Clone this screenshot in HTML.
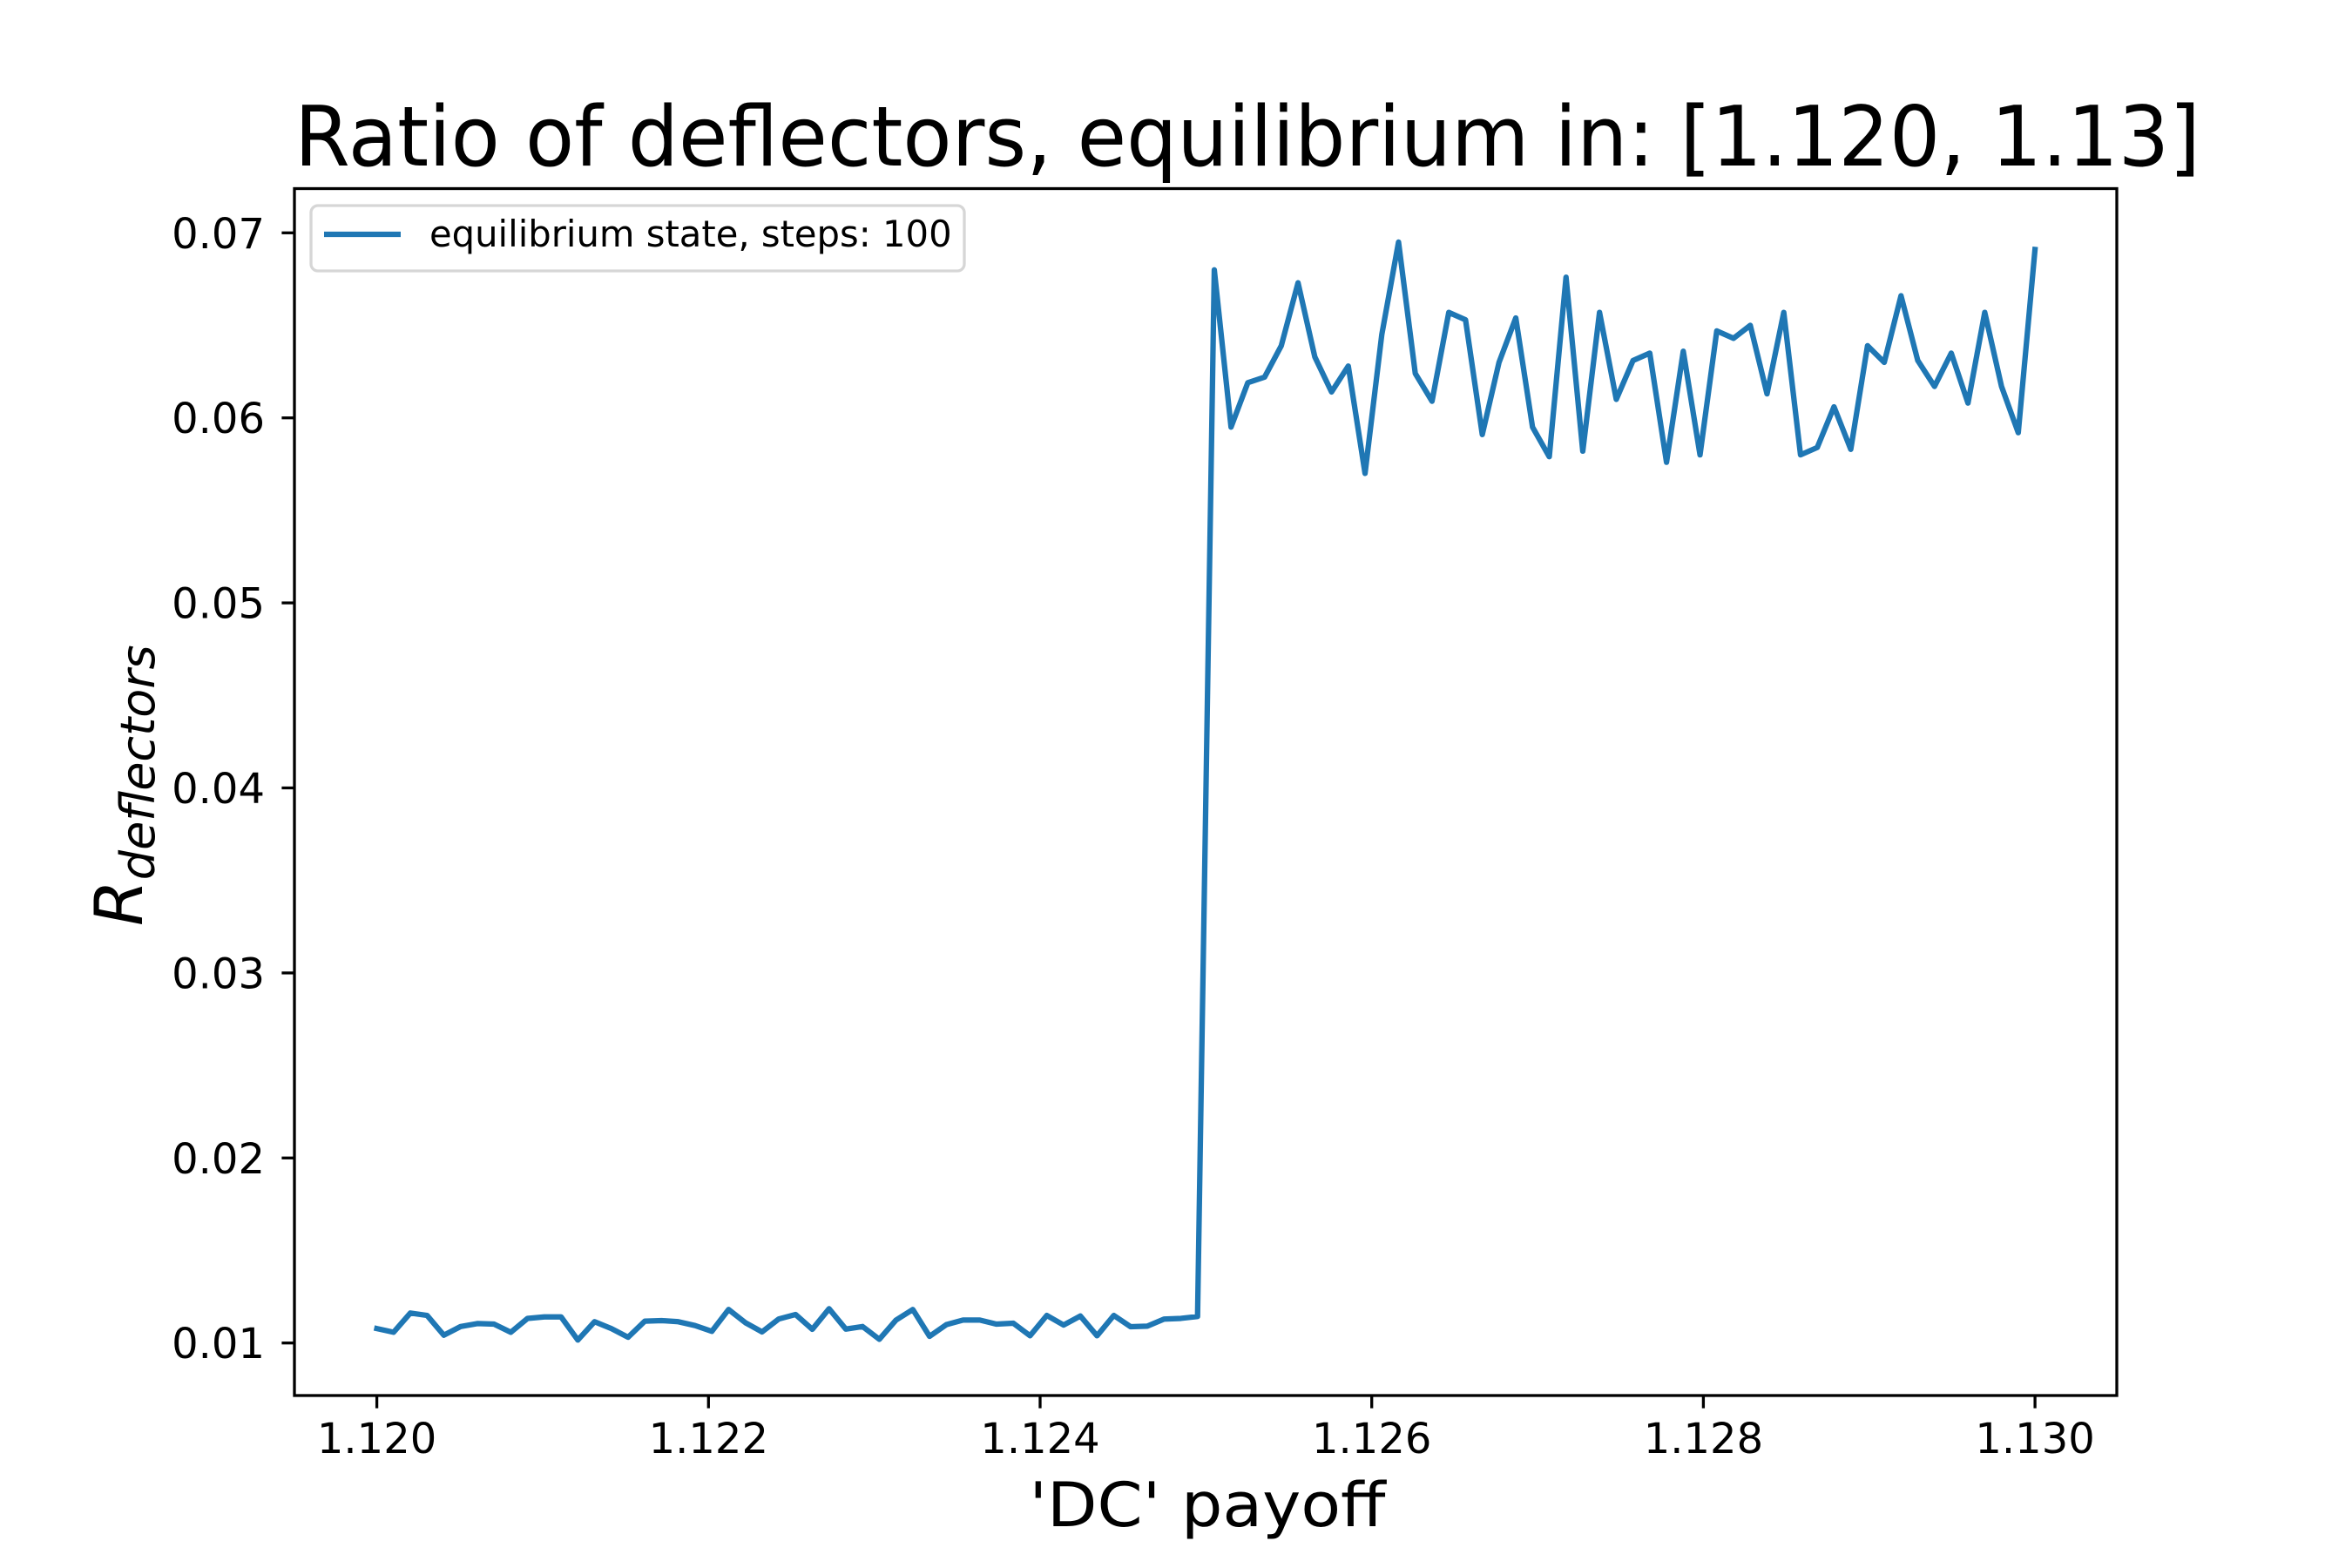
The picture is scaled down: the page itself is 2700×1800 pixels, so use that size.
<!DOCTYPE html>
<html><head><meta charset="utf-8"><style>
html,body{margin:0;padding:0;background:#fff;}
svg{display:block;font-family:"DejaVu Sans","Liberation Sans",sans-serif;}
</style></head><body>
<svg id="chart" width="2700" height="1800" viewBox="0 0 2700 1800" xmlns="http://www.w3.org/2000/svg">
<rect x="0" y="0" width="2700" height="1800" fill="#fff"/>
<text x="338" y="190" font-size="95" textLength="2188" lengthAdjust="spacingAndGlyphs">Ratio of deflectors, equilibrium in: [1.120, 1.13]</text>
<g id="xticks"></g>
<g id="yticks"></g>
<path id="series" fill="none" stroke="#1f77b4" stroke-width="6.25" stroke-linejoin="round" stroke-linecap="square"/>
<rect x="338" y="216.5" width="2092" height="1385.5" fill="none" stroke="#000" stroke-width="3.3"/>
<text x="1386" y="1752" font-size="70" text-anchor="middle" textLength="409" lengthAdjust="spacingAndGlyphs">'DC' payoff</text>
<g transform="translate(163,1063) rotate(-90)">
<text font-size="76" font-style="italic">R<tspan font-size="54" dy="14">deflectors</tspan></text>
</g>
<g>
<rect x="357" y="236" width="750" height="75" rx="8" fill="#fff" fill-opacity="0.8" stroke="#d6d6d6" stroke-width="3.3"/>
<line x1="372" y1="269" x2="460" y2="269" stroke="#1f77b4" stroke-width="6.25"/>
<text x="493" y="283" font-size="41.7">equilibrium state, steps: 100</text>
</g>
</svg>
<script>
const yValues = [
0.01078,0.01058,0.01162,0.01149,0.01042,0.01089,0.01105,0.01102,0.01058,0.01133,
0.01141,0.01141,0.01016,0.01115,0.01078,0.01031,0.01118,0.01121,0.01115,0.01094,
0.01063,0.01181,0.01110,0.01060,0.01130,0.01154,0.01074,0.01185,0.01075,0.01089,
0.01020,0.01124,0.01181,0.01036,0.01099,0.01124,0.01124,0.01102,0.01107,0.01039,
0.01149,0.01097,0.01146,0.01039,0.01149,0.01088,0.01091,0.01129,0.01133,0.01143,
0.0680,0.0595,0.0619,0.0622,0.0639,0.0673,0.0633,0.0614,0.0628,0.0570,
0.0645,0.0695,0.0624,0.0609,0.0657,0.0653,0.0591,0.0630,0.0654,0.0595,
0.0579,0.0676,0.0582,0.0657,0.0610,0.0631,0.0635,0.0576,0.0636,0.0580,
0.0647,0.0643,0.0650,0.0613,0.0657,0.0580,0.0584,0.0606,0.0583,0.0639,
0.0630,0.0666,0.0631,0.0617,0.0635,0.0608,0.0657,0.0617,0.0592,0.0691
];
const xStart = 1.120;
const xEnd = 1.130;
const xTickValues = [1.120,1.122,1.124,1.126,1.128,1.130];
const xTickLabels = ["1.120","1.122","1.124","1.126","1.128","1.130"];
const yTickValues = [0.01,0.02,0.03,0.04,0.05,0.06,0.07];
const yTickLabels = ["0.01","0.02","0.03","0.04","0.05","0.06","0.07"];

const NS = "http://www.w3.org/2000/svg";
function xScale(v){ return 432.6 + (v - 1.120) / 0.002 * 380.7; }
function yScale(v){ return 1541.7 - (v - 0.01) * 21240; }

const n = yValues.length;
let d = "";
for (let i = 0; i < n; i++) {
  const xv = xStart + (xEnd - xStart) * i / (n - 1);
  d += (i ? "L" : "M") + xScale(xv).toFixed(2) + "," + yScale(yValues[i]).toFixed(2);
}
document.getElementById("series").setAttribute("d", d);

const xg = document.getElementById("xticks");
xTickValues.forEach((v, i) => {
  const x = xScale(v);
  const t = document.createElementNS(NS, "line");
  
  
  t.setAttribute("x1", x); t.setAttribute("x2", x);
  t.setAttribute("y1", 1602); t.setAttribute("y2", 1616.6);
  t.setAttribute("stroke", "#000"); t.setAttribute("stroke-width", "3.3");
  xg.appendChild(t);
  const l = document.createElementNS(NS, "text");
  
  
  l.setAttribute("x", x); l.setAttribute("y", 1668);
  l.setAttribute("font-size", "48"); l.setAttribute("text-anchor", "middle");
  l.textContent = xTickLabels[i];
  xg.appendChild(l);
});

const yg = document.getElementById("yticks");
yTickValues.forEach((v, i) => {
  const y = yScale(v);
  const t = document.createElementNS(NS, "line");
  
  
  t.setAttribute("x1", 323.4); t.setAttribute("x2", 338);
  t.setAttribute("y1", y); t.setAttribute("y2", y);
  t.setAttribute("stroke", "#000"); t.setAttribute("stroke-width", "3.3");
  yg.appendChild(t);
  const l = document.createElementNS(NS, "text");
  
  
  l.setAttribute("x", 304); l.setAttribute("y", y + 17.5);
  l.setAttribute("font-size", "48"); l.setAttribute("text-anchor", "end");
  l.textContent = yTickLabels[i];
  yg.appendChild(l);
});
</script>
</body></html>
